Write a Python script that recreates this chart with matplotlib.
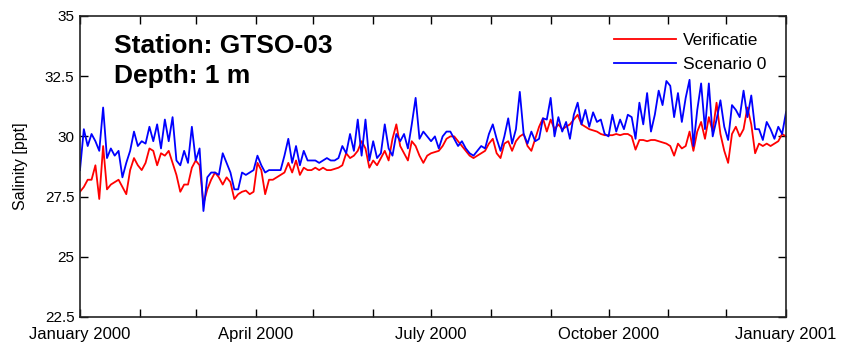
import matplotlib
matplotlib.use("Agg")
import matplotlib.pyplot as plt
import matplotlib.dates as mdates
import pandas as pd

plt.rcParams['font.family'] = ['Liberation Sans', 'DejaVu Sans']

start_date = "2000-01-01"
step = "2D"

scenario0 = [
    28.6, 30.3, 29.6, 30.1, 29.8, 29.4, 31.2, 29.1, 29.5, 29.2,
    29.4, 28.3, 28.9, 29.4, 30.2, 29.6, 29.8, 29.7, 30.4, 29.8,
    30.5, 29.5, 30.7, 29.8, 30.8, 29.0, 28.8, 29.4, 28.9, 30.4,
    29.0, 29.5, 26.9, 28.3, 28.5, 28.5, 28.4, 29.3, 28.9, 28.5,
    27.8, 27.8, 28.5, 28.4, 28.5, 28.6, 29.2, 28.8, 28.5, 28.6,
    28.6, 28.6, 28.6, 29.2, 29.9, 28.9, 29.6, 28.8, 29.4, 29.0,
    29.0, 29.0, 28.9, 29.0, 29.1, 29.0, 29.0, 29.1, 29.6, 29.3,
    30.1, 29.4, 30.7, 29.2, 30.7, 29.0, 29.8, 29.1, 29.3, 30.5,
    29.5, 29.2, 30.1, 29.8, 30.1, 29.5, 30.5, 31.6, 29.9, 30.2,
    30.0, 29.8, 30.0, 29.5, 30.0, 30.2, 30.2, 29.9, 29.6, 29.8,
    29.5, 29.3, 29.2, 29.4, 29.6, 29.5, 30.1, 30.5, 29.9, 29.4,
    30.0, 30.75, 29.7, 30.3, 31.85, 30.1, 29.7, 30.2, 29.8, 29.9,
    30.75, 30.7, 31.6, 30.0, 30.8, 30.2, 30.6, 29.9, 30.9, 31.4,
    30.5, 31.1, 30.4, 31.0, 30.6, 30.7, 30.1, 30.0, 30.9, 30.2,
    30.7, 30.3, 30.9, 30.8, 29.9, 31.4, 30.5, 31.8, 30.2, 30.9,
    31.9, 31.3, 32.3, 32.1, 30.8, 31.8, 30.6, 31.6, 32.35, 29.6,
    31.1, 32.2, 30.3, 32.2, 30.0, 30.7, 31.5, 30.4, 29.85, 31.3,
    31.1, 30.8, 31.9, 30.8, 31.7, 30.3, 30.3, 29.85, 30.6, 30.3,
    29.9, 30.4, 30.1, 31.0,
]

verificatie = [
    27.7, 27.9, 28.2, 28.2, 28.8, 27.4, 29.6, 27.8, 28.0, 28.1,
    28.2, 27.9, 27.6, 28.6, 29.1, 28.8, 28.6, 28.9, 29.5, 29.4,
    28.8, 29.3, 29.2, 29.4, 28.9, 28.4, 27.7, 28.0, 28.0, 28.7,
    29.0, 28.8, 27.2, 27.8, 28.2, 28.5, 28.3, 28.0, 28.3, 28.1,
    27.4, 27.6, 27.7, 27.75, 27.6, 27.7, 28.9, 28.6, 27.6, 28.2,
    28.2, 28.3, 28.4, 28.5, 28.9, 28.5, 29.0, 28.4, 28.7, 28.6,
    28.6, 28.7, 28.6, 28.7, 28.6, 28.6, 28.65, 28.7, 28.8, 29.3,
    29.1, 29.2, 29.4, 29.8, 29.5, 28.7, 29.0, 28.8, 29.1, 29.4,
    29.0, 29.9, 30.5, 29.6, 29.3, 29.0, 29.8, 29.6, 29.2, 28.9,
    29.2, 29.3, 29.35, 29.4, 29.6, 29.9, 30.0, 30.0, 29.8, 29.6,
    29.4, 29.2, 29.1, 29.2, 29.3, 29.4, 29.7, 29.9, 29.3, 29.1,
    29.7, 29.8, 29.4, 29.8, 30.0, 30.1, 29.6, 29.4, 29.9, 30.4,
    30.75, 30.2, 30.7, 30.3, 30.5, 30.3, 30.4, 30.5, 30.7, 30.9,
    30.5, 30.4, 30.3, 30.25, 30.2, 30.1, 30.05, 30.05, 30.05, 30.1,
    30.05, 30.1, 30.1, 30.0, 29.45, 29.85, 29.85, 29.8, 29.85, 29.85,
    29.8, 29.75, 29.7, 29.6, 29.2, 29.7, 29.5, 29.6, 30.2, 29.4,
    30.2, 30.6, 29.9, 30.8, 30.2, 31.4, 30.1, 29.4, 28.9, 30.1,
    30.4, 30.0, 30.3, 31.2, 30.5, 29.3, 29.7, 29.6, 29.7, 29.6,
    29.7, 29.8, 30.1, 30.0,
]

series_labels = ["Verificatie", "Scenario 0"]
ytick_values = [22.5, 25, 27.5, 30, 32.5, 35]
ytick_labels = ["22.5", "25", "27.5", "30", "32.5", "35"]
xtick_dates = ["2000-01-01", "2000-04-01", "2000-07-01", "2000-10-01", "2001-01-01"]
xtick_labels = ["January 2000", "April 2000", "July 2000", "October 2000", "January 2001"]
station_text = "Station: GTSO-03\nDepth: 1 m"
ylabel = "Salinity [ppt]"

dates_red = pd.date_range(start_date, periods=len(verificatie), freq=step)
dates_blue = pd.date_range(start_date, periods=len(scenario0), freq=step)

fig = plt.figure(figsize=(8.41, 3.44), dpi=100)
ax = fig.add_axes([0.0951, 0.0785, 0.8395, 0.875])

ax.plot(dates_red, verificatie, color="#ff0000", lw=1.3, label=series_labels[0])
ax.plot(dates_blue, scenario0, color="#0000ff", lw=1.3, label=series_labels[1])

ax.set_xlim(pd.Timestamp("2000-01-01"), pd.Timestamp("2001-01-01"))
ax.set_ylim(22.5, 35)
ax.set_yticks(ytick_values)
ax.set_yticklabels(ytick_labels)
ax.set_xticks(pd.to_datetime(xtick_dates))
ax.set_xticklabels(xtick_labels)
ax.xaxis.set_minor_locator(mdates.MonthLocator())

ax.tick_params(axis="both", which="both", direction="in", top=True, right=True,
               length=6, width=1.0, colors="black")
ax.tick_params(axis="x", which="major", pad=7, labelsize=12)
ax.tick_params(axis="y", which="major", pad=4, labelsize=11)
for sp in ax.spines.values():
    sp.set_linewidth(1.2)
    sp.set_color("#222222")

ax.set_ylabel(ylabel, fontsize=11.5, labelpad=12)

ax.text(0.048, 0.94, station_text, transform=ax.transAxes, fontsize=19,
        fontweight="bold", va="top", ha="left", linespacing=1.3)

leg = ax.legend(loc="upper left", bbox_to_anchor=(0.746, 0.966), frameon=False,
                fontsize=12.5, handlelength=3.6, handletextpad=0.4, labelspacing=0.5,
                borderaxespad=0)

fig.savefig("out.png", dpi=100)
